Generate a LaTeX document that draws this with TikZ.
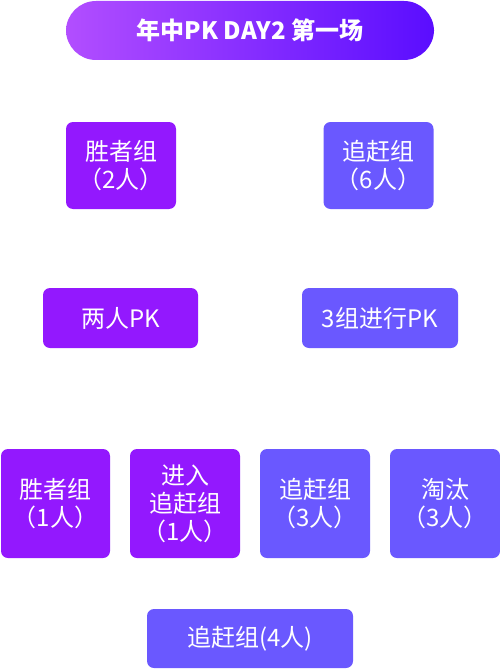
\documentclass[tikz,border=0pt]{standalone}
\usepackage{fontspec}
\setmainfont{Noto Sans CJK SC}
\definecolor{pA}{HTML}{9318FE}
\definecolor{pB}{HTML}{6A58FF}
\definecolor{gL}{HTML}{B24EFF}
\definecolor{gR}{HTML}{5A0DFF}
\begin{document}
\begin{tikzpicture}[x=1pt,y=-1pt,
  box/.style={rounded corners=7pt, text=white, inner sep=0pt, align=center,
    font=\fontsize{24}{28}\selectfont, anchor=center},
  purp/.style={box, fill=pA},
  blu/.style={box, fill=pB},
  title/.style={rounded corners=30pt, left color=gL, right color=gR, text=white,
    inner sep=0pt, font=\fontsize{24}{28}\selectfont\bfseries, anchor=center}]
\useasboundingbox (0,0) rectangle (500,669);
\node[title, minimum width=368pt, minimum height=59pt] (t) at (250,30.5) {年中PK DAY2 第一场};
\node[purp, minimum width=110pt, minimum height=87pt] (w2) at (121,165.5) {胜者组\\（2人）};
\node[blu, minimum width=110pt, minimum height=87pt] (c6) at (378.5,165.5) {追赶组\\（6人）};
\node[purp, minimum width=155pt, minimum height=60pt] (pk2) at (120.5,318) {两人PK};
\node[blu, minimum width=156pt, minimum height=60pt] (pk3) at (380,318) {3组进行PK};
\node[purp, minimum width=109pt, minimum height=109pt] (w1) at (55.5,503.5) {胜者组\\（1人）};
\node[purp, minimum width=110pt, minimum height=109pt] (e1) at (185,503.5) {进入\\追赶组\\（1人）};
\node[blu, minimum width=110pt, minimum height=109pt] (c3) at (315,503.5) {追赶组\\（3人）};
\node[blu, minimum width=110pt, minimum height=109pt] (o3) at (445,503.5) {淘汰\\（3人）};
\node[blu, minimum width=206pt, minimum height=59pt] (c4) at (250,638.5) {追赶组(4人)};
\end{tikzpicture}
\end{document}
